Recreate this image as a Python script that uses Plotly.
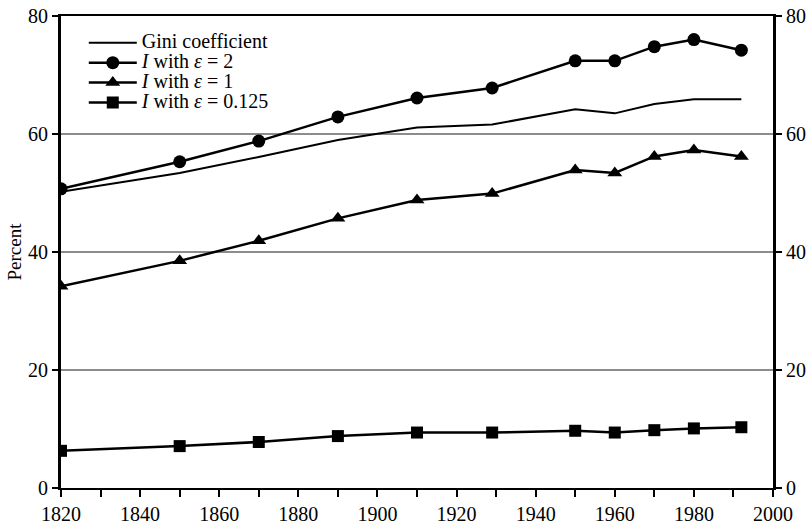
import plotly.graph_objects as go

years = [1820, 1850, 1870, 1890, 1910, 1929, 1950, 1960, 1970, 1980, 1992]
gini = [50.2, 53.4, 56.1, 59.0, 61.1, 61.6, 64.2, 63.5, 65.1, 65.9, 65.9]
eps2 = [50.7, 55.3, 58.8, 62.9, 66.1, 67.8, 72.4, 72.4, 74.8, 76.0, 74.2]
eps1 = [34.2, 38.5, 41.9, 45.7, 48.8, 49.9, 53.9, 53.4, 56.2, 57.3, 56.2]
eps0125 = [6.3, 7.1, 7.8, 8.8, 9.4, 9.4, 9.7, 9.4, 9.8, 10.1, 10.3]

names = ["Gini coefficient",
         "<i>I</i> with <i>ε</i> = 2",
         "<i>I</i> with <i>ε</i> = 1",
         "<i>I</i> with <i>ε</i> = 0.125"]

FONT = "Times New Roman, Liberation Serif, DejaVu Serif, serif"


def big(s):
    return '<span style="font-size:20px">' + s + '</span>'


fig = go.Figure()
fig.add_trace(go.Scatter(x=years, y=gini, mode="lines", name=big(names[0]),
                         line=dict(color="black", width=2)))
fig.add_trace(go.Scatter(x=years, y=eps2, mode="lines+markers", name=big(names[1]),
                         line=dict(color="black", width=2.5),
                         marker=dict(symbol="circle", size=13, color="black")))
fig.add_trace(go.Scatter(x=years, y=eps1, mode="lines+markers", name=big(names[2]),
                         line=dict(color="black", width=2.5),
                         marker=dict(symbol="triangle-up", size=13, color="black")))
fig.add_trace(go.Scatter(x=years, y=eps0125, mode="lines+markers", name=big(names[3]),
                         line=dict(color="black", width=2.5),
                         marker=dict(symbol="square", size=12, color="black")))
# invisible trace to activate the right-hand axis
fig.add_trace(go.Scatter(x=years, y=gini, yaxis="y2", mode="lines",
                         line=dict(width=0, color="rgba(0,0,0,0)"),
                         showlegend=False, hoverinfo="skip"))

fig.update_layout(
    width=810, height=530,
    margin=dict(l=61, r=37, t=16, b=42),
    plot_bgcolor="white", paper_bgcolor="white",
    font=dict(family=FONT, size=20, color="black"),
    showlegend=True,
    legend=dict(x=0.032, y=0.975, xanchor="left", yanchor="top",
                bgcolor="rgba(0,0,0,0)", font=dict(family=FONT, size=13),
                itemwidth=48, tracegroupgap=0),
    xaxis=dict(range=[1820, 2000], tick0=1820, dtick=20, automargin=False,
               showgrid=False, zeroline=False,
               showline=True, linecolor="black", linewidth=2, mirror=True,
               ticks="outside", ticklen=7, tickwidth=2, tickcolor="black",
               minor=dict(dtick=10, tick0=1820, ticks="outside", ticklen=7,
                          tickwidth=2, tickcolor="black", showgrid=False),
               tickfont=dict(family=FONT, size=20)),
    yaxis=dict(range=[0, 80], dtick=20, showgrid=True, gridcolor="#8c8c8c",
               gridwidth=1.5, zeroline=False, automargin=False,
               showline=True, linecolor="black", linewidth=3,
               ticks="outside", ticklen=6, tickwidth=2, tickcolor="black",
               title=dict(text="Percent", font=dict(family=FONT, size=19),
                          standoff=2),
               tickfont=dict(family=FONT, size=20)),
    yaxis2=dict(range=[0, 80], dtick=20, overlaying="y", side="right",
                showgrid=False, zeroline=False, automargin=False,
                showline=True, linecolor="black", linewidth=3,
                ticks="outside", ticklen=6, tickwidth=2, tickcolor="black",
                tickfont=dict(family=FONT, size=20)),
)

fig.write_html("out.html", config={"displayModeBar": False},
               post_script="document.body.style.margin='0px';")
